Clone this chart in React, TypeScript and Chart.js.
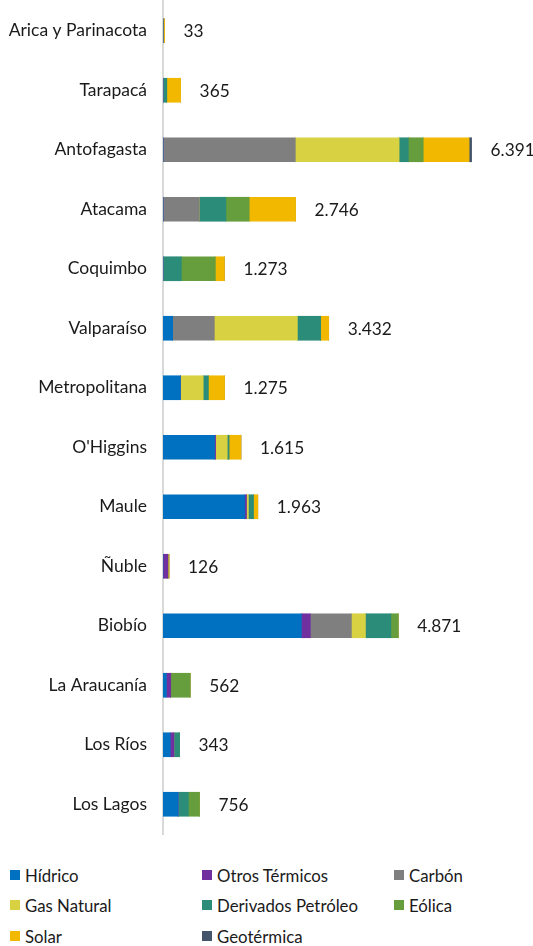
import React, { useEffect, useRef } from "react";
import { Chart, registerables } from "chart.js";

Chart.register(...registerables);

const regions = [
  "Arica y Parinacota",
  "Tarapacá",
  "Antofagasta",
  "Atacama",
  "Coquimbo",
  "Valparaíso",
  "Metropolitana",
  "O'Higgins",
  "Maule",
  "Ñuble",
  "Biobío",
  "La Araucanía",
  "Los Ríos",
  "Los Lagos",
];

const hidrico = [0, 0, 0, 0, 0, 200, 360, 1068, 1693, 0, 2866, 70, 150, 315];
const otrosTermicos = [0, 0, 0, 0, 0, 0, 0, 21, 35, 100, 186, 90, 75, 0];
const carbon = [0, 0, 2740, 750, 0, 863, 0, 0, 0, 0, 850, 0, 0, 0];
const gasNatural = [0, 0, 2150, 0, 0, 1720, 473, 242, 41, 0, 290, 0, 0, 0];
const derivadosPetroleo = [0, 78, 190, 553, 380, 483, 104, 35, 104, 0, 527, 0, 118, 210];
const eolica = [0, 0, 310, 483, 705, 0, 0, 0, 0, 0, 152, 402, 0, 231];
const solar = [33, 287, 950, 960, 188, 166, 338, 249, 90, 26, 0, 0, 0, 0];
const geotermica = [0, 0, 51, 0, 0, 0, 0, 0, 0, 0, 0, 0, 0, 0];

const seriesNames = [
  "Hídrico",
  "Otros Térmicos",
  "Carbón",
  "Gas Natural",
  "Derivados Petróleo",
  "Eólica",
  "Solar",
  "Geotérmica",
];
const seriesData = [hidrico, otrosTermicos, carbon, gasNatural, derivadosPetroleo, eolica, solar, geotermica];
const seriesColors = ["#0070C0", "#7030A0", "#7F7F7F", "#D8D142", "#2A8C79", "#669E3E", "#F2B800", "#44546A"];

const FONT = "Lato, 'Open Sans', sans-serif";

function fmt(n: number): string {
  return String(Math.round(n)).replace(/\B(?=(\d{3})+(?!\d))/g, ".");
}

const totalsPlugin = {
  id: "totals",
  afterDatasetsDraw(chart: any) {
    const ctx = chart.ctx;
    const xs = chart.scales.x;
    const ys = chart.scales.y;
    ctx.save();
    ctx.font = `17.3px ${FONT}`;
    ctx.fillStyle = "#1a1a1a";
    ctx.textAlign = "left";
    ctx.textBaseline = "middle";
    regions.forEach((_, i) => {
      let total = 0;
      seriesData.forEach((s) => (total += s[i]));
      const x = xs.getPixelForValue(total) + 19;
      const y = ys.getPixelForValue(i) + 1;
      ctx.fillText(fmt(total), x, y);
    });
    ctx.restore();
  },
};

const legendPos = [
  { x: 10, y: 875 },
  { x: 202, y: 875 },
  { x: 394, y: 875 },
  { x: 10, y: 905 },
  { x: 202, y: 905 },
  { x: 394, y: 905 },
  { x: 10, y: 936 },
  { x: 202, y: 936 },
];

export default function App() {
  const ref = useRef<HTMLCanvasElement | null>(null);

  useEffect(() => {
    document.body.style.margin = "0";
    if (!ref.current) return;
    const chart = new Chart(ref.current, {
      type: "bar",
      data: {
        labels: regions,
        datasets: seriesNames.map((name, k) => ({
          label: name,
          data: seriesData[k],
          backgroundColor: seriesColors[k],
          borderWidth: 0,
          barThickness: 24,
        })),
      },
      options: {
        indexAxis: "y",
        animation: false,
        responsive: false,
        maintainAspectRatio: false,
        layout: { padding: { top: 1, bottom: 16, left: 0, right: 32 } },
        plugins: {
          legend: { display: false },
          tooltip: { enabled: false },
        },
        scales: {
          x: {
            stacked: true,
            display: false,
            min: 0,
            max: 7000,
          },
          y: {
            stacked: true,
            afterFit: (s: any) => {
              s.width = 163;
              s.paddingTop = 0;
              s.paddingBottom = 0;
            },
            grid: { display: false, drawTicks: false },
            border: { display: true, color: "#D9D9D9", width: 2 },
            ticks: {
              padding: 16,
              color: "#1a1a1a",
              font: { family: FONT, size: 17.5 },
            },
          },
        },
      },
      plugins: [totalsPlugin],
    });
    return () => chart.destroy();
  }, []);

  return (
    <div style={{ position: "relative", width: 533, height: 946, background: "#fff" }}>
      <canvas ref={ref} width={533} height={850} style={{ display: "block", width: 533, height: 850 }} />
      {seriesNames.map((name, k) => (
        <div
          key={name}
          style={{
            position: "absolute",
            left: legendPos[k].x,
            top: legendPos[k].y - 10,
            height: 20,
            display: "flex",
            alignItems: "center",
            fontFamily: FONT,
            fontSize: 16.8,
            color: "#1a1a1a",
            whiteSpace: "nowrap",
          }}
        >
          <span
            style={{
              display: "inline-block",
              width: 10,
              height: 10,
              background: seriesColors[k],
              marginRight: 5,
            }}
          />
          {name}
        </div>
      ))}
    </div>
  );
}
